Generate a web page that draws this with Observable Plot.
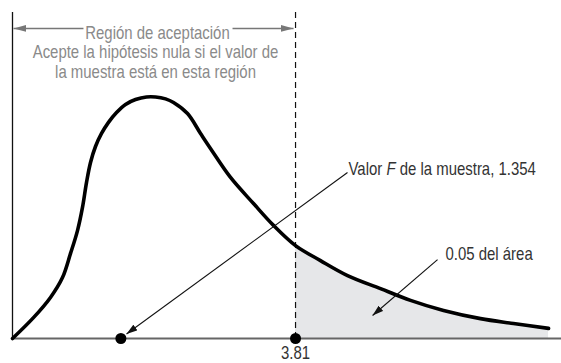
<!DOCTYPE html>
<html>
<head>
<meta charset="utf-8">
<script src="https://cdn.jsdelivr.net/npm/d3@7"></script>
<script src="https://cdn.jsdelivr.net/npm/@observablehq/plot@0.6"></script>
<style>
  html, body { margin: 0; padding: 0; background: #fff; }
</style>
</head>
<body>
<div id="chart"></div>
<script>
// Curve of the F distribution (arbitrary density units)
const curveX = [-0.17, 0.125, 0.364, 0.533, 0.646, 0.744, 0.814, 0.871, 0.927, 0.997, 1.082, 1.180, 1.293, 1.419, 1.560, 1.714, 1.841, 1.982, 2.094, 2.291, 2.474, 2.614, 2.896, 3.219, 3.500, 3.81, 4.161, 4.541, 5.005, 5.427, 5.891, 6.411, 6.875, 7.368];
const curveY = [0, 0.064, 0.126, 0.187, 0.261, 0.331, 0.402, 0.479, 0.540, 0.589, 0.629, 0.663, 0.693, 0.718, 0.733, 0.741, 0.741, 0.735, 0.724, 0.690, 0.629, 0.583, 0.494, 0.414, 0.347, 0.285, 0.239, 0.193, 0.153, 0.117, 0.086, 0.061, 0.046, 0.031];

const criticalValue = 3.81;
const sampleValue = 1.354;
const tickLabels = ["3.81"];

const regionTitle = "Región de aceptación";
const regionLines = ["Acepte la hipótesis nula si el valor de", "la muestra está en esta región"];
const sampleLabelParts = ["Valor ", "F", " de la muestra, 1.354"];
const areaLabel = "0.05 del área";

// annotation anchors (data units)
const regionArrowLeft = [-0.156, 0.828];
const regionArrowRight = [2.924, 3.782];
const regionArrowY = 0.951;
const regionTitlePos = [1.869, 0.936];
const regionLineX = 1.841;
const regionLineY = [0.877, 0.816];
const sampleLabelPos = [4.555, 0.518];
const areaLabelPos = [5.919, 0.258];
const samplePointer = {x1: 4.541, y1: 0.509, x2: 1.433, y2: 0.0138};
const areaPointer = {x1: 5.807, y1: 0.242, x2: 4.893, y2: 0.0706};

const curve = curveX.map((x, i) => ({x, y: curveY[i]}));
const tail = curve.filter(d => d.x >= criticalValue);

const FONT = '"Liberation Sans", Arial, sans-serif';

const chart = Plot.plot({
  width: 561,
  height: 363,
  marginTop: 12,
  marginBottom: 25,
  marginLeft: 12,
  marginRight: 0,
  style: {fontFamily: FONT, fontSize: "18px", background: "#fff", overflow: "visible"},
  x: {domain: [-0.17, 7.55], axis: null},
  y: {domain: [0, 1], axis: null},
  marks: [
    Plot.areaY(tail, {x: "x", y: "y", fill: "#e6e7e9", curve: "catmull-rom"}),
    Plot.ruleX([-0.17], {y1: 0, y2: 1, stroke: "#111", strokeWidth: 1.3}),
    Plot.ruleY([0], {x1: -0.17, x2: 7.55, stroke: "#666", strokeWidth: 2}),
    Plot.ruleX([criticalValue], {y1: 0, y2: 1, stroke: "#111", strokeWidth: 1.2, strokeDasharray: "6,4"}),
    Plot.line(curve, {x: "x", y: "y", stroke: "#000", strokeWidth: 3.6, curve: "catmull-rom"}),
    Plot.link([{x1: regionArrowLeft[1], x2: regionArrowLeft[0], y: regionArrowY}, {x1: regionArrowRight[0], x2: regionArrowRight[1], y: regionArrowY}],
      {x1: "x1", x2: "x2", y1: "y", y2: "y", stroke: "#777", strokeWidth: 1.4, ariaLabel: () => "regionarrow"}),
    Plot.text([regionTitle], {x: regionTitlePos[0], y: regionTitlePos[1], text: d => d, fill: "#8a8a8a", fontSize: 18, textAnchor: "middle", lineAnchor: "middle"}),
    Plot.text(regionLines, {x: regionLineX, y: (d, i) => regionLineY[i], text: d => d, fill: "#8a8a8a", fontSize: 18, textAnchor: "middle", lineAnchor: "middle"}),
    Plot.link([samplePointer, areaPointer], {x1: "x1", y1: "y1", x2: "x2", y2: "y2", stroke: "#111", strokeWidth: 1.1, ariaLabel: () => "pointer"}),
    Plot.dot([sampleValue, criticalValue], {x: d => d, y: 0, r: 5.5, fill: "#000", stroke: "none"}),
    Plot.text([sampleLabelParts.join("")], {x: sampleLabelPos[0], y: sampleLabelPos[1], text: d => d, fill: "#333", fontSize: 18, textAnchor: "start", lineAnchor: "middle", ariaLabel: () => "valor"}),
    Plot.text([areaLabel], {x: areaLabelPos[0], y: areaLabelPos[1], text: d => d, fill: "#333", fontSize: 18, textAnchor: "start", lineAnchor: "middle"}),
    Plot.text(tickLabels, {x: criticalValue, y: 0, text: d => d, fill: "#333", fontSize: 18, textAnchor: "middle", lineAnchor: "top", dy: 8})
  ]
});

document.getElementById("chart").appendChild(chart);

// arrowhead markers (styling)
const svg = d3.select(chart);
const defs = svg.append("defs");
function addMarker(id, color, len, half) {
  defs.append("marker")
    .attr("id", id)
    .attr("viewBox", `0 ${-half} ${len} ${2 * half}`)
    .attr("refX", len).attr("refY", 0)
    .attr("markerWidth", len).attr("markerHeight", 2 * half)
    .attr("markerUnits", "userSpaceOnUse")
    .attr("orient", "auto")
    .append("path")
    .attr("d", `M0,${-half}L${len},0L0,${half}Z`)
    .attr("fill", color);
}
addMarker("ah-gray", "#777", 13, 3.5);
addMarker("ah-black", "#111", 11, 3.5);
svg.selectAll('[aria-label="regionarrow"]').filter(function () { return this.tagName === "path"; })
  .attr("marker-end", "url(#ah-gray)");
svg.selectAll('[aria-label="pointer"]').filter(function () { return this.tagName === "path"; })
  .attr("marker-end", "url(#ah-black)");

// italic F in the sample label
svg.selectAll('text[aria-label="valor"], [aria-label="valor"] text').each(function () {
  const t = d3.select(this);
  t.text(null);
  sampleLabelParts.forEach((s, i) => {
    const sp = t.append("tspan").text(s);
    if (i === 1) sp.attr("font-style", "italic");
  });
});

// condensed look (like Helvetica Condensed): horizontal scale about the anchor point
svg.selectAll("text").each(function () {
  const tr = this.getAttribute("transform") || "";
  const x = +this.getAttribute("x") || 0;
  const y = +this.getAttribute("y") || 0;
  this.setAttribute("transform", `${tr} translate(${x},${y}) scale(0.83,1) translate(${-x},${-y})`);
});
</script>
</body>
</html>
